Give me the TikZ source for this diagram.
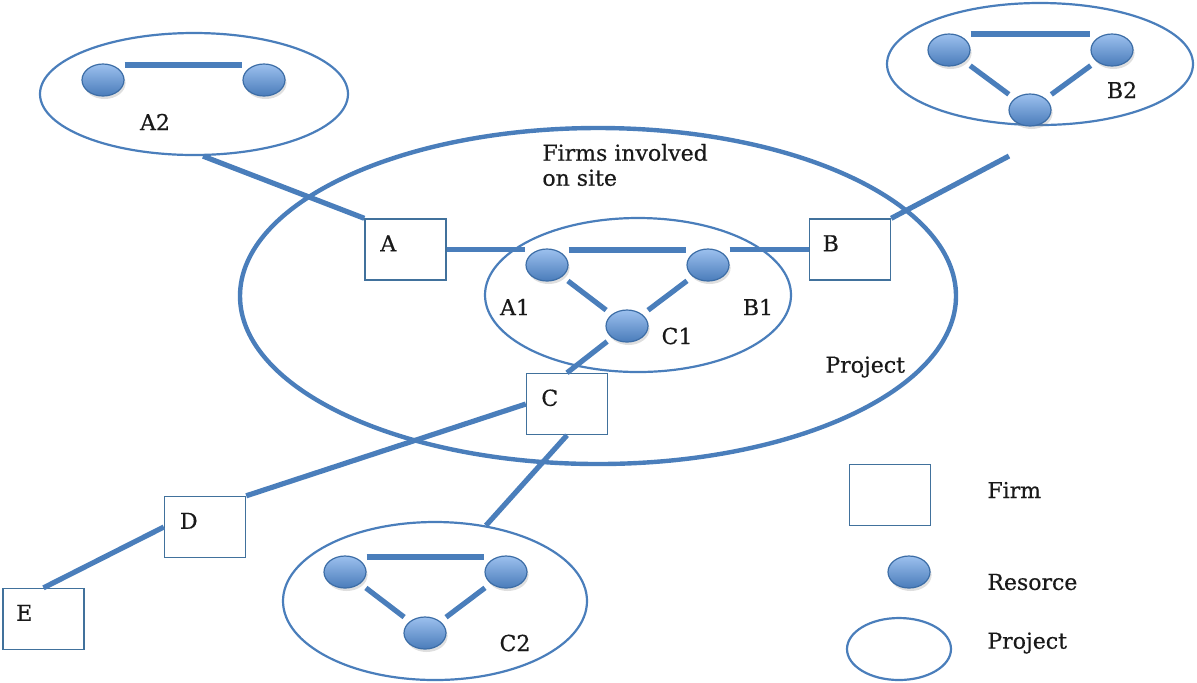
\documentclass[tikz,border=0pt]{standalone}
\usepackage{fontspec}
\setmainfont{DejaVu Serif}
\newfontfamily\lblfont[FakeBold=0.5]{DejaVu Serif}
\usetikzlibrary{shapes.geometric,shadows,calc}
\definecolor{lineblue}{HTML}{4A7EBB}
\definecolor{boxblue}{HTML}{41719C}
\definecolor{ballTop}{HTML}{9CC0EE}
\definecolor{ballBot}{HTML}{4A7CBA}
\definecolor{ballEdge}{HTML}{3C6DA6}
\tikzset{
  x=0.5pt, y=-0.5pt,
  lbl/.style={inner sep=0pt, font=\lblfont\fontsize{11}{12.5}\selectfont, text=black!90},
  firm/.style={draw=boxblue, line width=0.7pt, fill=white, minimum width=40.5pt, minimum height=30.5pt, inner sep=0pt},
  resource/.style={ellipse, draw=ballEdge, line width=0.6pt, top color=ballTop, bottom color=ballBot, minimum width=21pt, minimum height=16pt, inner sep=0pt,
    drop shadow={opacity=0.25, shadow xshift=0.8pt, shadow yshift=-1.5pt}},
  proj/.style={ellipse, draw=lineblue, line width=1.1pt, inner sep=0pt},
  bigproj/.style={ellipse, draw=lineblue, line width=2.2pt, inner sep=0pt},
  link/.style={draw=lineblue, line width=2.6pt},
  tie/.style={draw=lineblue, line width=2.6pt, shorten <=3.5pt, shorten >=3.5pt},
}
\begin{document}
\begin{tikzpicture}
\useasboundingbox (0,0) rectangle (1197,682);

% project ellipses
\node[bigproj, minimum width=358pt, minimum height=168pt] (P) at (598,296) {};
\node[proj, minimum width=154pt, minimum height=61pt] (A2p) at (194,94) {};
\node[proj, minimum width=153pt, minimum height=61pt] (B2p) at (1040,64) {};
\node[proj, minimum width=153pt, minimum height=77pt] (P1) at (638,295) {};
\node[proj, minimum width=152pt, minimum height=79pt] (C2p) at (435,601) {};

% firms
\node[firm] (A) at (405.5,249.5) {};
\node[firm] (B) at (850,249.5) {};
\node[firm] (C) at (567,404) {};
\node[firm] (D) at (205,527) {};
\node[firm] (E) at (43.5,619) {};
\node[lbl] at ([xshift=12pt,yshift=-12.5pt]A.north west) {A};
\node[lbl] at ([xshift=11pt,yshift=-12.5pt]B.north west) {B};
\node[lbl] at ([xshift=12pt,yshift=-12.5pt]C.north west) {C};
\node[lbl] at ([xshift=12.5pt,yshift=-12.5pt]D.north west) {D};
\node[lbl] at ([xshift=11pt,yshift=-12.5pt]E.north west) {E};

% resources
\node[resource] (A2a) at (103,80) {};
\node[resource] (A2b) at (264,80) {};
\node[resource] (B2a) at (949,50) {};
\node[resource] (B2b) at (1112,50) {};
\node[resource] (B2c) at (1030,110) {};
\node[resource] (A1) at (547,265) {};
\node[resource] (B1) at (708,265) {};
\node[resource] (C1) at (627,326) {};
\node[resource] (C2a) at (345,572) {};
\node[resource] (C2b) at (506,572) {};
\node[resource] (C2c) at (425,633) {};

% ties inside projects
\draw[link] ([yshift=7.5pt]A2a.east) -- ([yshift=7.5pt]A2b.west);
\draw[link] ([yshift=8pt]B2a.east) -- ([yshift=8pt]B2b.west);
\draw[tie] (B2a) -- (B2c);
\draw[tie] (B2b) -- (B2c);
\draw[link] ([yshift=7.5pt]A1.east) -- ([yshift=7.5pt]B1.west);
\draw[tie] (A1) -- (C1);
\draw[tie] (B1) -- (C1);
\draw[link] ([yshift=7.5pt]C2a.east) -- ([yshift=7.5pt]C2b.west);
\draw[tie] (C2a) -- (C2c);
\draw[tie] (C2b) -- (C2c);

% links between firms and resources / projects
\coordinate (B2end) at (1009,156);
\draw[link] ([xshift=4.5pt]A2p.south) -- (A.north west);
\draw[link] (A.east) -- (A.east -| A1.west);
\draw[link] (B1.east |- B.west) -- (B.west);
\draw[link] (B.north east) -- (B2end);
\draw[link, shorten <=3pt] (C1) -- (C.north);
\draw[link] (C.west) -- (D.north east);
\draw[link] (C.south) -- (C2p.56);
\draw[link] (D.west) -- (E.north);

% labels
\node[lbl] at (155,122) {A2};
\node[lbl] at (1122,90) {B2};
\node[lbl] at (515,307) {A1};
\node[lbl] at (758,307) {B1};
\node[lbl] at (677,336) {C1};
\node[lbl] at (515,643) {C2};
\node[lbl, anchor=west, align=left] at (542,165) {Firms involved\\on site};
\node[lbl, anchor=west] at (825,367) {Project};

% legend
\node[firm] (Lf) at (890,495) {};
\node[resource] (Lr) at (909,572) {};
\node[proj, minimum width=52pt, minimum height=31pt] (Lp) at (899,649) {};
\node[lbl, anchor=west] at (987,490) {Firm};
\node[lbl, anchor=west] at (987,582) {Resorce};
\node[lbl, anchor=west] at (987,643) {Project};
\end{tikzpicture}
\end{document}
